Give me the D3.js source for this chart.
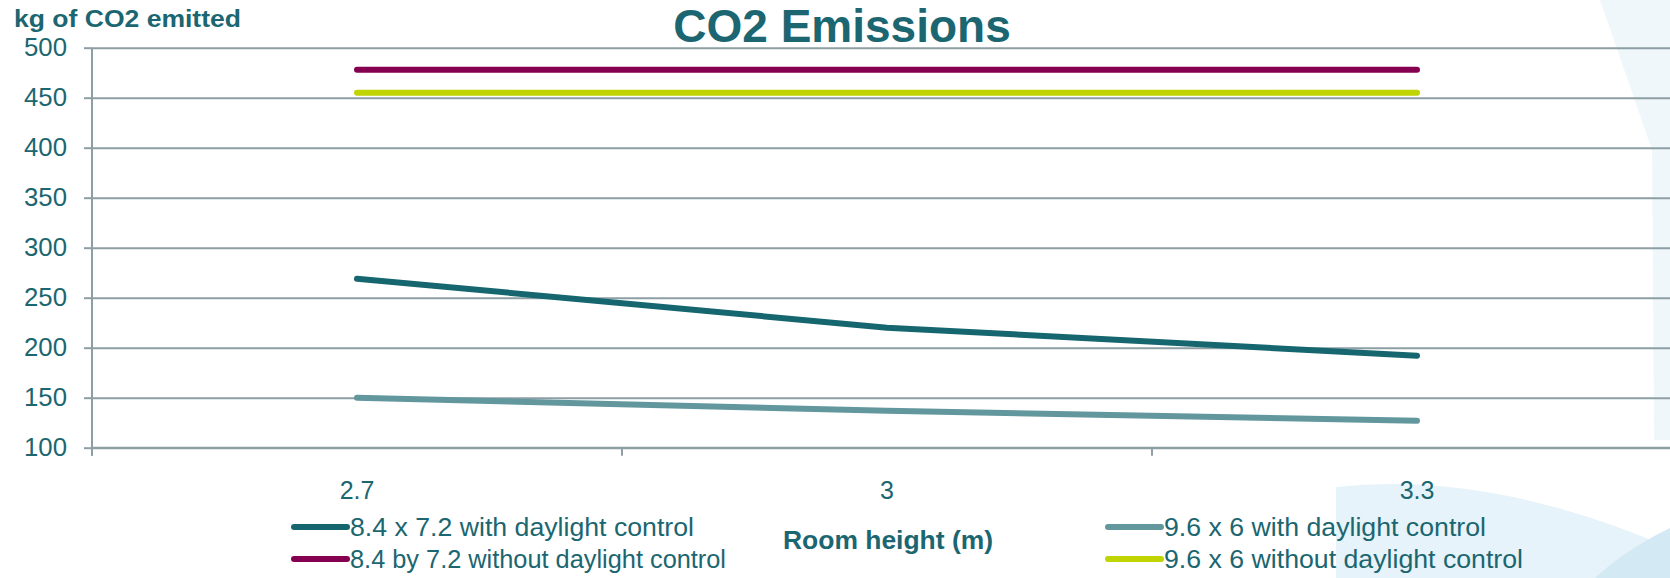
<!DOCTYPE html>
<html>
<head>
<meta charset="utf-8">
<script src="https://cdn.jsdelivr.net/npm/d3@7"></script>
<style>
  html, body { margin: 0; padding: 0; background: #ffffff; }
  svg { display: block; font-family: "Liberation Sans", Arial, Helvetica, sans-serif; }
</style>
</head>
<body>
<svg id="chart" width="1670" height="578"></svg>
<script>
// Room heights on the category axis
const roomHeights = ["2.7", "3", "3.3"];

// Series names (legend order) and yearly emissions in kg of CO2
const seriesNames = [
  "8.4 x 7.2 with daylight control",
  "8.4 by 7.2 without daylight control",
  "9.6 x 6 with daylight control",
  "9.6 x 6 without daylight control"
];
const large84WithControl    = [269, 220, 192];
const large84WithoutControl = [478, 478, 478];
const small96WithControl    = [150, 137, 127];
const small96WithoutControl = [455, 455, 455];

const yTickValues = [100, 150, 200, 250, 300, 350, 400, 450, 500];

const seriesColors = ["#16666f", "#850050", "#62979e", "#bfd400"];
const seriesValues = [large84WithControl, large84WithoutControl, small96WithControl, small96WithoutControl];

const textColor = "#1b6670";
const gridColor = "#8d9fa5";

const W = 1670, H = 578;
const svg = d3.select("#chart");

// Soft slide artwork on the right edge
const art = svg.append("g");
art.append("path")
  .attr("d", "M1600,0 L1670,0 L1670,440 L1654,440 L1652,150 Z")
  .attr("fill", "#f0f7fb");
art.append("path")
  .attr("d", "M1336,578 L1336,487 Q1490,470 1670,548 L1670,578 Z")
  .attr("fill", "#e6f3fa");
art.append("path")
  .attr("d", "M1595,578 Q1625,550 1670,528 L1670,578 Z")
  .attr("fill", "#d3e9f4");

// Scales: each room height occupies one band, the point sits at its centre
const x = d3.scaleBand().domain(roomHeights).range([92, 1682]).paddingInner(0).paddingOuter(0);
const y = d3.scaleLinear().domain([100, 500]).range([447.7, 47.7]);
const cx = d => x(d) + x.bandwidth() / 2;

// Horizontal gridlines
svg.append("g")
  .attr("transform", "translate(92,0)")
  .call(d3.axisLeft(y).tickValues(yTickValues).tickSize(-(W - 92)).tickFormat(""))
  .call(g => g.select(".domain").remove())
  .call(g => g.selectAll("line").attr("stroke", gridColor).attr("stroke-width", 2));

// Y axis with labels
svg.append("g")
  .attr("transform", "translate(92,0)")
  .call(d3.axisLeft(y).tickValues(yTickValues).tickSize(8).tickPadding(17))
  .call(g => g.select(".domain").attr("stroke", gridColor).attr("stroke-width", 2).attr("d", `M0,${y(500)}V${y(100) + 8}`))
  .call(g => g.selectAll("line").attr("stroke", gridColor).attr("stroke-width", 2))
  .call(g => g.selectAll("text").attr("fill", textColor).attr("font-size", 25).attr("textLength", 43).attr("lengthAdjust", "spacingAndGlyphs"));

// X axis: boundary ticks between bands, labels at band centres
const xAxis = svg.append("g").attr("transform", `translate(0,${y(100)})`);
xAxis.append("line")
  .attr("x1", 92).attr("x2", W)
  .attr("stroke", gridColor).attr("stroke-width", 2);
xAxis.selectAll("line.bound")
  .data(roomHeights)
  .join("line")
  .attr("class", "bound")
  .attr("x1", d => x(d)).attr("x2", d => x(d))
  .attr("y1", 0).attr("y2", 8)
  .attr("stroke", gridColor).attr("stroke-width", 2);
svg.append("g")
  .attr("transform", `translate(0,${y(100)})`)
  .call(d3.axisBottom(x).tickSize(0).tickPadding(34))
  .call(g => g.select(".domain").remove())
  .call(g => g.selectAll("text").attr("fill", textColor).attr("font-size", 25));

// Series lines
const line = d3.line().x((d, i) => cx(roomHeights[i])).y(d => y(d));
svg.append("g")
  .selectAll("path")
  .data(seriesValues)
  .join("path")
  .attr("d", d => line(d))
  .attr("fill", "none")
  .attr("stroke", (d, i) => seriesColors[i])
  .attr("stroke-width", 6)
  .attr("stroke-linecap", "round")
  .attr("stroke-linejoin", "round");

// Titles
svg.append("text")
  .attr("x", 842).attr("y", 42)
  .attr("text-anchor", "middle")
  .attr("font-size", 46).attr("font-weight", "bold")
  .attr("fill", textColor)
  .text("CO2 Emissions");

svg.append("text")
  .attr("x", 14).attr("y", 27)
  .attr("font-size", 24).attr("font-weight", "bold")
  .attr("textLength", 227).attr("lengthAdjust", "spacingAndGlyphs")
  .attr("fill", textColor)
  .text("kg of CO2 emitted");

svg.append("text")
  .attr("x", 888).attr("y", 540).attr("dy", "0.35em")
  .attr("text-anchor", "middle")
  .attr("font-size", 25).attr("font-weight", "bold")
  .attr("textLength", 210).attr("lengthAdjust", "spacingAndGlyphs")
  .attr("fill", textColor)
  .text("Room height (m)");

// Legend: two columns of two entries
const legendCols = [294, 1108];
const legendRows = [527, 559];
const legendWidths = [344, 376, 322, 359];
const legend = svg.append("g")
  .selectAll("g")
  .data(seriesNames)
  .join("g")
  .attr("transform", (d, i) => `translate(${legendCols[Math.floor(i / 2)]},${legendRows[i % 2]})`);
legend.append("line")
  .attr("x1", 0).attr("x2", 53)
  .attr("stroke", (d, i) => seriesColors[i])
  .attr("stroke-width", 6)
  .attr("stroke-linecap", "round");
legend.append("text")
  .attr("x", 56).attr("dy", "0.35em")
  .attr("font-size", 25)
  .attr("fill", textColor)
  .attr("textLength", (d, i) => legendWidths[i])
  .attr("lengthAdjust", "spacingAndGlyphs")
  .text(d => d);
</script>
</body>
</html>
